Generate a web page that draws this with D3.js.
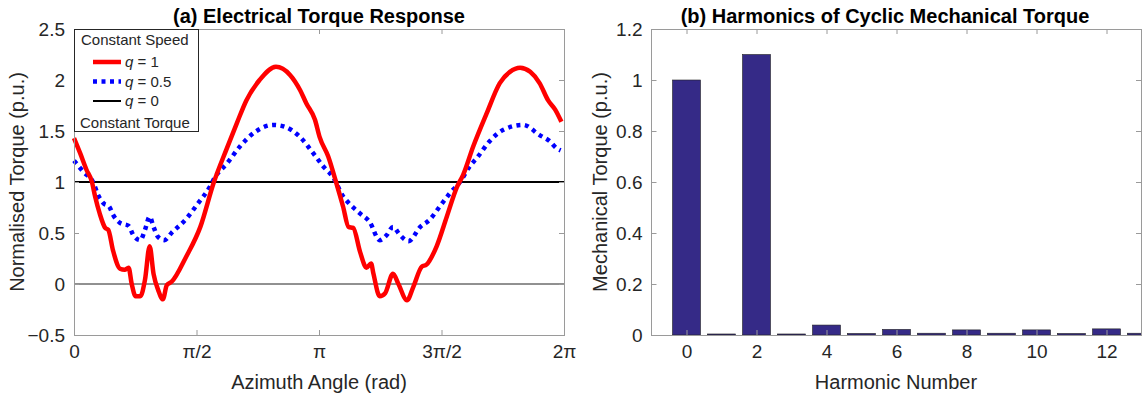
<!DOCTYPE html>
<html>
<head>
<meta charset="utf-8">
<script src="https://cdn.jsdelivr.net/npm/d3@7"></script>
<style>
  body { margin: 0; background: #fff; }
  text { font-family: "Liberation Sans", Arial, sans-serif; fill: #262626; }
</style>
</head>
<body>
<div id="chart"></div>
<script>
var svgWidth = 1142;
var svgHeight = 398;

// (a) azimuth angle in rad, torque in p.u.
var angleQ1 = [0.00, 0.08, 0.16, 0.23, 0.27, 0.33, 0.40, 0.44, 0.50, 0.59, 0.65, 0.70, 0.74, 0.79, 0.85, 0.91, 0.97, 1.02, 1.08, 1.14, 1.19, 1.25, 1.44, 1.62, 1.79, 1.96, 2.09, 2.21, 2.38, 2.59, 2.77, 2.90, 2.98, 3.09, 3.15, 3.26, 3.36, 3.45, 3.52, 3.58, 3.67, 3.75, 3.81, 3.84, 3.92, 3.99, 4.09, 4.16, 4.27, 4.35, 4.46, 4.52, 4.65, 4.78, 4.91, 4.99, 5.12, 5.29, 5.46, 5.59, 5.72, 5.85, 5.97, 6.08, 6.17, 6.25];
var torqueQ1 = [1.43, 1.28, 1.12, 1.00, 0.86, 0.69, 0.55, 0.53, 0.33, 0.15, 0.14, 0.16, 0.00, -0.12, -0.12, 0.04, 0.37, 0.10, -0.06, -0.15, -0.01, 0.02, 0.27, 0.56, 0.99, 1.33, 1.58, 1.80, 2.00, 2.13, 2.05, 1.90, 1.77, 1.61, 1.44, 1.25, 1.00, 0.76, 0.56, 0.55, 0.31, 0.16, 0.20, 0.10, -0.12, -0.09, 0.10, 0.00, -0.16, -0.03, 0.17, 0.19, 0.37, 0.66, 0.95, 1.07, 1.35, 1.67, 1.97, 2.08, 2.12, 2.08, 1.97, 1.80, 1.71, 1.59];

var angleQ05 = [0.00, 0.12, 0.25, 0.31, 0.38, 0.45, 0.50, 0.59, 0.70, 0.76, 0.85, 0.91, 0.97, 1.02, 1.08, 1.16, 1.25, 1.44, 1.59, 1.74, 1.81, 1.96, 2.13, 2.32, 2.56, 2.71, 2.90, 3.07, 3.20, 3.32, 3.45, 3.54, 3.67, 3.79, 3.92, 4.01, 4.09, 4.18, 4.29, 4.44, 4.56, 4.69, 4.82, 4.95, 5.08, 5.16, 5.33, 5.50, 5.76, 5.97, 6.10, 6.19, 6.24];
var torqueQ05 = [1.21, 1.10, 0.99, 0.87, 0.79, 0.76, 0.68, 0.60, 0.57, 0.48, 0.43, 0.53, 0.66, 0.56, 0.46, 0.43, 0.50, 0.64, 0.79, 0.95, 1.05, 1.18, 1.35, 1.49, 1.56, 1.54, 1.44, 1.28, 1.15, 1.05, 0.86, 0.78, 0.69, 0.61, 0.43, 0.48, 0.56, 0.48, 0.42, 0.56, 0.63, 0.76, 0.89, 1.00, 1.16, 1.23, 1.40, 1.51, 1.56, 1.46, 1.40, 1.33, 1.31];

var torqueQ0 = 1;

var angleTicks = [0, Math.PI / 2, Math.PI, 3 * Math.PI / 2, 2 * Math.PI];
var angleTickLabels = ["0", "\u03c0/2", "\u03c0", "3\u03c0/2", "2\u03c0"];

// (b) harmonics
var harmonics = [0, 1, 2, 3, 4, 5, 6, 7, 8, 9, 10, 11, 12, 13];
var mechTorque = [1.0, 0.004, 1.1, 0.004, 0.039, 0.006, 0.022, 0.007, 0.020, 0.007, 0.020, 0.006, 0.024, 0.007];

var legendRows = [
    { label: "1", color: "red", width: 4.5, dash: null },
    { label: "0.5", color: "blue", width: 4.5, dash: "4,4.5" },
    { label: "0", color: "black", width: 2, dash: null }
];

var svg = d3.select("#chart")
    .append("svg")
    .attr("width", svgWidth)
    .attr("height", svgHeight);

var plotTop = 29, plotBottom = 335;
var tickLen = 5;
var axisColor = "#9a9a9a";

// ---------- (a) Electrical Torque Response ----------
var xA = d3.scaleLinear().domain([0, 2 * Math.PI]).range([74, 564]);
var yA = d3.scaleLinear().domain([-0.5, 2.5]).range([plotBottom, plotTop]);

var gA = svg.append("g");

gA.append("line")
    .attr("x1", xA(0)).attr("x2", xA(2 * Math.PI))
    .attr("y1", yA(0)).attr("y2", yA(0))
    .attr("stroke", "#222").attr("stroke-width", 1);

gA.append("line")
    .attr("x1", xA(0)).attr("x2", xA(2 * Math.PI))
    .attr("y1", yA(torqueQ0)).attr("y2", yA(torqueQ0))
    .attr("stroke", "black").attr("stroke-width", 2);

var lineA = d3.line()
    .x(d => xA(d[0]))
    .y(d => yA(d[1]))
    .curve(d3.curveMonotoneX);

gA.append("path")
    .datum(d3.zip(angleQ05, torqueQ05))
    .attr("d", lineA)
    .attr("fill", "none")
    .attr("stroke", "blue")
    .attr("stroke-width", 4.5)
    .attr("stroke-dasharray", "4,4.5");

gA.append("path")
    .datum(d3.zip(angleQ1, torqueQ1))
    .attr("d", lineA)
    .attr("fill", "none")
    .attr("stroke", "red")
    .attr("stroke-width", 4.5)
    .attr("stroke-linejoin", "round");

function drawFrame(g, x0, x1) {
    g.append("rect")
        .attr("x", x0 + 0.5).attr("y", plotTop + 0.5)
        .attr("width", x1 - x0).attr("height", plotBottom - plotTop)
        .attr("fill", "none")
        .attr("stroke", axisColor)
        .attr("stroke-width", 1);
}

drawFrame(gA, 74, 564);

// axes with inner ticks on all four sides
gA.append("g")
    .attr("transform", `translate(0, ${plotBottom})`)
    .call(d3.axisBottom(xA).tickValues(angleTicks).tickSize(-tickLen).tickPadding(10)
        .tickFormat((d, i) => angleTickLabels[i]))
    .call(styleAxis);
gA.append("g")
    .attr("transform", `translate(0, ${plotTop})`)
    .call(d3.axisTop(xA).tickValues(angleTicks).tickSize(-tickLen).tickFormat(""))
    .call(styleAxis);
gA.append("g")
    .attr("transform", `translate(74, 0)`)
    .call(d3.axisLeft(yA).tickValues(d3.range(-0.5, 2.51, 0.5)).tickSize(-tickLen).tickPadding(9)
        .tickFormat(d => d3.format("")(Math.round(d * 10) / 10)))
    .call(styleAxis);
gA.append("g")
    .attr("transform", `translate(564, 0)`)
    .call(d3.axisRight(yA).tickValues(d3.range(-0.5, 2.51, 0.5)).tickSize(-tickLen).tickFormat(""))
    .call(styleAxis);

function styleAxis(sel) {
    sel.select(".domain").remove();
    sel.selectAll(".tick line").attr("stroke", axisColor);
    sel.selectAll(".tick text")
        .attr("fill", "#262626")
        .style("font-size", "19px")
        .style("font-family", "'Liberation Sans', Arial, sans-serif");
}

gA.append("text")
    .attr("x", 319).attr("y", 23)
    .attr("text-anchor", "middle")
    .style("font-size", "20px").style("font-weight", "bold").style("fill", "#000")
    .text("(a) Electrical Torque Response");

gA.append("text")
    .attr("x", 319).attr("y", 389)
    .attr("text-anchor", "middle")
    .style("font-size", "20px")
    .text("Azimuth Angle (rad)");

gA.append("text")
    .attr("transform", `translate(24, 182) rotate(-90)`)
    .attr("text-anchor", "middle")
    .style("font-size", "20px")
    .text("Normalised Torque (p.u.)");

// legend
var legend = gA.append("g");
legend.append("rect")
    .attr("x", 74.5).attr("y", 29.5)
    .attr("width", 124).attr("height", 102)
    .attr("fill", "white")
    .attr("stroke", "#262626")
    .attr("stroke-width", 1);
legend.append("text")
    .attr("x", 81).attr("y", 44.5)
    .style("font-size", "15px")
    .text("Constant Speed");
legend.append("text")
    .attr("x", 80).attr("y", 128)
    .style("font-size", "15px")
    .text("Constant Torque");

var rowY = [62, 81.5, 101];
legendRows.forEach(function (r, i) {
    legend.append("line")
        .attr("x1", 93).attr("x2", 121)
        .attr("y1", rowY[i]).attr("y2", rowY[i])
        .attr("stroke", r.color)
        .attr("stroke-width", r.width)
        .attr("stroke-dasharray", r.dash);
    var t = legend.append("text")
        .attr("x", 125).attr("y", rowY[i] + 5)
        .style("font-size", "15px");
    t.append("tspan").style("font-style", "italic").text("q");
    t.append("tspan").text(" = " + r.label);
});

// ---------- (b) Harmonics of Cyclic Mechanical Torque ----------
var xB = d3.scaleLinear().domain([-1, 13]).range([651.5, 1141.5]);
var yB = d3.scaleLinear().domain([0, 1.2]).range([plotBottom, plotTop]);
var barW = (xB(1) - xB(0)) * 0.8;

var gB = svg.append("g");

gB.append("clipPath").attr("id", "clipB")
    .append("rect")
    .attr("x", 651.5).attr("y", plotTop)
    .attr("width", 490).attr("height", plotBottom - plotTop);

gB.append("g")
    .attr("clip-path", "url(#clipB)")
    .selectAll("rect")
    .data(harmonics)
    .enter()
    .append("rect")
    .attr("x", d => xB(d) - barW / 2)
    .attr("y", (d, i) => yB(mechTorque[i]))
    .attr("width", barW)
    .attr("height", (d, i) => yB(0) - yB(mechTorque[i]))
    .attr("fill", "#352a87")
    .attr("stroke", "#222")
    .attr("stroke-width", 0.6);

drawFrame(gB, 651, 1141);

gB.append("g")
    .attr("transform", `translate(0, ${plotBottom})`)
    .call(d3.axisBottom(xB).tickValues(d3.range(0, 13, 2)).tickSize(-tickLen).tickPadding(10))
    .call(styleAxis);
gB.append("g")
    .attr("transform", `translate(0, ${plotTop})`)
    .call(d3.axisTop(xB).tickValues(d3.range(0, 13, 2)).tickSize(-tickLen).tickFormat(""))
    .call(styleAxis);
gB.append("g")
    .attr("transform", `translate(651.5, 0)`)
    .call(d3.axisLeft(yB).tickValues(d3.range(0, 1.21, 0.2)).tickSize(-tickLen).tickPadding(9)
        .tickFormat(d => d3.format("")(Math.round(d * 10) / 10)))
    .call(styleAxis);
gB.append("g")
    .attr("transform", `translate(1141, 0)`)
    .call(d3.axisRight(yB).tickValues(d3.range(0, 1.21, 0.2)).tickSize(-tickLen).tickFormat(""))
    .call(styleAxis);

gB.append("text")
    .attr("x", 885).attr("y", 23)
    .attr("text-anchor", "middle")
    .style("font-size", "20px").style("font-weight", "bold").style("fill", "#000")
    .text("(b) Harmonics of Cyclic Mechanical Torque");

gB.append("text")
    .attr("x", 896).attr("y", 389)
    .attr("text-anchor", "middle")
    .style("font-size", "20px")
    .text("Harmonic Number");

gB.append("text")
    .attr("transform", `translate(607, 182) rotate(-90)`)
    .attr("text-anchor", "middle")
    .style("font-size", "20px")
    .text("Mechanical Torque (p.u.)");
</script>
</body>
</html>
